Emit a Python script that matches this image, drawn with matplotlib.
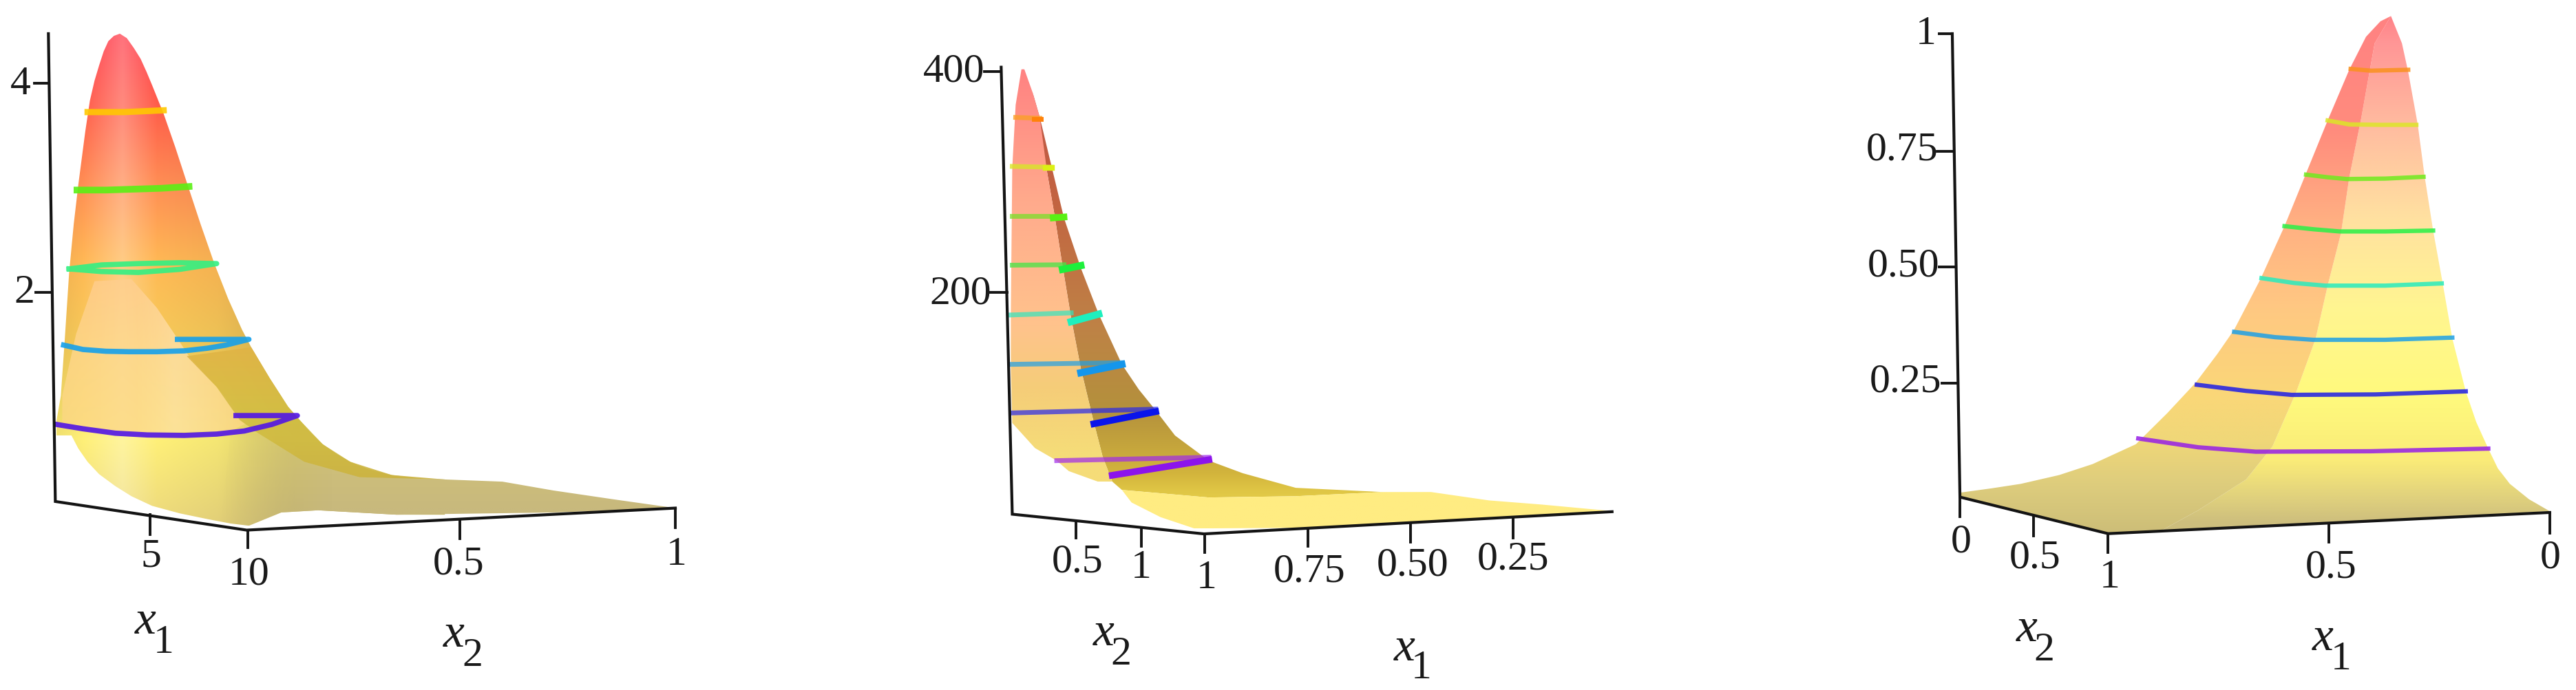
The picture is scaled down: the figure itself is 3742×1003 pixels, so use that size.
import numpy as np
import matplotlib
matplotlib.use("Agg")
import matplotlib.pyplot as plt
from matplotlib.patches import Polygon

plt.rcParams["font.family"] = ["Liberation Serif", "DejaVu Serif"]

W, H = 3742, 1004

# all coordinates below are read off the picture, per panel crop
# ---- panel 1
p1_box = (0, 0, 1050, 1004)
p1_axis = [(105, 78), (120, 1140), (535, 1205), (1465, 1155)]
p1_ticks = [(75, 190, 105, 190), (78, 665, 110, 665), (325, 1170, 325, 1215),
            (537, 1205, 537, 1245), (997, 1180, 997, 1225), (1465, 1155, 1465, 1200)]
p1_labels = [("4", 45, 192), ("2", 52, 665), ("5", 328, 1265), ("10", 540, 1305),
             ("0.5", 995, 1282), ("1", 1467, 1260)]
p1_names = [("x", "1", 315, 1412, 355, 1460), ("x", "2", 985, 1442, 1025, 1490)]
p1_body = [(260, 78), (275, 88), (290, 110), (305, 135), (318, 165), (330, 195), (355, 260), (380, 335), (405, 415),
           (435, 510), (465, 600), (495, 680), (525, 750), (545, 790), (585, 860), (625, 925),
           (650, 955), (675, 985), (700, 1010), (730, 1032), (760, 1050), (800, 1067), (850, 1080), (905, 1087), (965, 1090),
           (965, 1170), (860, 1170), (690, 1160), (610, 1165),
           (540, 1195), (500, 1190), (450, 1180), (390, 1167), (330, 1150), (285, 1128), (250, 1105), (215, 1078), (190, 1050),
           (170, 1020), (155, 990), (122, 990),
           (122, 960), (132, 900), (140, 780), (150, 620), (160, 510), (170, 420), (185, 300),
           (195, 230), (205, 185), (215, 150), (225, 118), (235, 95), (247, 83)]
p1_body_y = [78, 250, 430, 600, 800, 1000, 1200]
p1_body_c = [(255, 60, 75), (255, 95, 75), (255, 145, 85), (255, 185, 85), (245, 205, 90), (255, 240, 120), (235, 215, 125)]
p1_light_x = [130, 180, 265, 340, 470, 640]
p1_light_a = [-0.05, 0.0, 0.28, 0.0, -0.04, -0.18]
p1_sheet = [(205, 640), (285, 635), (340, 700), (385, 770), (410, 810), (470, 880), (540, 960),
            (500, 980), (300, 985), (135, 970), (135, 900), (165, 760)]
p1_back = [(405, 810), (545, 790), (585, 860), (625, 925), (650, 955), (700, 1010), (760, 1050),
           (850, 1080), (965, 1090), (780, 1085), (660, 1050), (560, 985), (520, 955), (470, 880)]
p1_floor = [(500, 985), (560, 985), (660, 1050), (780, 1085), (965, 1090), (1090, 1095), (1200, 1115), (1330, 1135),
            (1465, 1155), (1200, 1165), (860, 1170), (690, 1160), (610, 1165), (540, 1195), (480, 1185)]
p1_fade_x = [480, 560, 720]
p1_fade_a = [0.0, 0.35, 1.0]
p1_lines = [
    ([190, 270, 355], [256, 256, 252], (255, 200, 0), 6.5),
    ([167, 230, 290, 350, 410], [433, 433, 431, 429, 425], (90, 240, 20), 7),
    ([150, 220, 300, 390, 470, 390, 300, 220, 150], [612, 618, 620, 613, 600, 598, 600, 603, 612], (50, 240, 130), 5.5),
    ([138, 180, 230, 280, 340, 400, 450, 490, 540, 460, 385], [785, 795, 799, 800, 800, 798, 792, 785, 772, 772, 772], (20, 160, 235), 5.5),
    ([122, 180, 250, 320, 400, 470, 530, 590, 645, 580, 512], [965, 975, 985, 989, 990, 987, 980, 965, 945, 945, 945], (80, 20, 230), 5.5),
]

# ---- panel 2
p2_box = (1300, 50, 1100, 954)
p2_axis = [(220, 80), (243, 1148), (640, 1195), (1485, 1142)]
p2_ticks = [(185, 90, 220, 90), (195, 618, 232, 618), (375, 1165, 375, 1205), (510, 1180, 510, 1225),
            (642, 1195, 642, 1240), (855, 1185, 855, 1225), (1068, 1172, 1068, 1215), (1280, 1158, 1280, 1205)]
p2_labels = [("400", 122, 90), ("200", 135, 620), ("0.5", 378, 1262), ("1", 510, 1275), ("1", 645, 1300),
             ("0.75", 858, 1285), ("0.50", 1072, 1270), ("0.25", 1280, 1255)]
p2_names = [("x", "2", 432, 1432, 468, 1482), ("x", "1", 1055, 1468, 1090, 1515)]
p2_front = [(268, 85), (285, 140), (300, 200), (315, 330), (330, 430), (345, 540), (365, 680), (385, 800),
            (410, 920), (430, 1010), (450, 1070), (420, 1070), (360, 1045), (335, 1020), (290, 990), (243, 930),
            (240, 800), (240, 670), (243, 320), (250, 170), (262, 85)]
p2_front_y = [85, 400, 700, 850, 1000]
p2_front_c = [(255, 130, 130), (255, 170, 140), (255, 195, 140), (245, 205, 120), (245, 220, 120)]
p2_back = [(285, 140), (300, 200), (325, 320), (350, 440), (385, 560), (422, 670), (470, 790), (505, 850), (540, 900),
           (580, 960), (650, 1020), (720, 1050), (830, 1085), (1010, 1095), (830, 1105), (650, 1108), (470, 1090),
           (450, 1070), (430, 1010), (410, 920), (385, 800), (365, 680), (345, 540), (330, 430), (315, 330)]
p2_back_y = [140, 400, 700, 900, 1050, 1100]
p2_back_c = [(190, 85, 70), (195, 100, 65), (190, 130, 70), (180, 145, 60), (210, 180, 60), (225, 200, 70)]
p2_floor = [(470, 1090), (650, 1108), (830, 1105), (1010, 1095), (1110, 1095), (1230, 1115), (1340, 1125), (1480, 1140),
            (1200, 1160), (900, 1180), (620, 1182), (550, 1155), (490, 1120)]
p2_floor_c = (255, 236, 130)
p2_lines = [
    ([250, 300], [200, 202], (250, 160, 40), 5, 0.8),
    ([243, 325], [317, 319], (215, 230, 40), 5, 0.8),
    ([243, 330], [435, 435], (120, 225, 40), 5, 0.75),
    ([243, 350], [553, 552], (70, 230, 70), 5, 0.75),
    ([240, 365], [672, 667], (50, 230, 190), 5, 0.7),
    ([240, 470], [790, 786], (30, 160, 230), 5, 0.7),
    ([243, 540], [906, 897], (40, 40, 235), 5, 0.7),
    ([335, 650], [1020, 1012], (160, 40, 235), 5, 0.7),
    ([328, 350], [440, 438], (90, 240, 20), 7, 1),
    ([347, 385], [563, 554], (30, 240, 60), 7.5, 1),
    ([365, 422], [688, 670], (30, 240, 190), 7.5, 1),
    ([385, 470], [810, 790], (20, 150, 235), 7.5, 1),
    ([412, 540], [932, 903], (10, 20, 235), 7, 1),
    ([450, 650], [1055, 1018], (140, 20, 235), 7, 1),
    ([288, 302], [203, 203], (255, 130, 10), 5, 1),
    ([312, 325], [320, 320], (220, 240, 20), 6, 1),
]

# ---- panel 3
p3_box = (2650, 0, 1092, 1004)
p3_axis = [(267, 78), (283, 1130), (592, 1213), (1513, 1165)]
p3_ticks = [(240, 78, 267, 78), (235, 345, 270, 345), (240, 608, 272, 608), (245, 872, 275, 872), (283, 1130, 283, 1175),
            (437, 1175, 437, 1218), (592, 1213, 592, 1255), (1053, 1190, 1053, 1232), (1513, 1165, 1513, 1212)]
p3_labels = [("1", 212, 78), ("0.75", 162, 342), ("0.50", 165, 605), ("0.25", 170, 868), ("0", 285, 1232),
             ("0.5", 440, 1268), ("1", 595, 1312), ("0.5", 1057, 1290), ("0", 1515, 1268)]
p3_names = [("x", "2", 422, 1430, 458, 1478), ("x", "1", 1040, 1450, 1078, 1497)]
p3_left = [(1182, 38), (1148, 100), (1120, 270), (1095, 405), (1078, 530), (1050, 650), (1025, 770), (985, 890),
           (935, 1015), (880, 1090), (780, 1160), (700, 1208), (592, 1213), (283, 1130), (283, 1120), (350, 1110), (410, 1100), (490, 1080), (560, 1055),
           (650, 1010), (715, 940), (775, 870), (820, 805), (855, 750), (910, 635), (960, 515), (1005, 395), (1050, 275), (1095, 160),
           (1130, 85), (1160, 50)]
p3_left_y = [40, 300, 500, 700, 900, 1000, 1100, 1210]
p3_left_c = [(255, 130, 130), (255, 140, 125), (255, 175, 130), (255, 200, 130), (250, 215, 120), (240, 215, 120),
             (222, 205, 125), (205, 190, 120)]
p3_right = [(1182, 38), (1205, 100), (1218, 165), (1238, 285), (1252, 400), (1270, 525), (1290, 645), (1310, 770),
            (1338, 890), (1360, 960), (1385, 1020), (1405, 1065), (1430, 1100), (1470, 1135), (1513, 1162), (1053, 1190), (700, 1208), (780, 1160), (880, 1090),
            (935, 1015), (985, 890), (1025, 770), (1050, 650), (1078, 530), (1095, 405), (1120, 270), (1148, 100)]
p3_right_y = [40, 100, 300, 500, 700, 900, 1050, 1130, 1190]
p3_right_c = [(255, 130, 135), (255, 150, 150), (255, 190, 160), (255, 225, 160), (255, 245, 145), (255, 250, 125),
              (250, 235, 120), (225, 210, 125), (205, 190, 125)]
p3_lines = [
    ([1098, 1140, 1218], [158, 162, 160], (250, 145, 30)),
    ([1050, 1095, 1160, 1235], [275, 284, 285, 285], (220, 230, 40)),
    ([1005, 1050, 1090, 1170, 1250], [398, 404, 408, 407, 403], (110, 235, 30)),
    ([960, 1020, 1075, 1170, 1270], [515, 522, 527, 527, 525], (40, 240, 70)),
    ([912, 980, 1045, 1170, 1288], [633, 644, 650, 650, 645], (40, 235, 190)),
    ([855, 940, 1020, 1170, 1310], [755, 767, 773, 773, 768], (30, 160, 230)),
    ([777, 880, 975, 1150, 1338], [875, 889, 898, 897, 890], (30, 30, 230)),
    ([655, 780, 900, 1140, 1385], [997, 1017, 1027, 1026, 1020], (150, 30, 230)),
]


def panel(box):
    x, y, w, h = box
    ax = fig.add_axes([x / W, 1 - (y + h) / H, w / W, h / H])
    ax.set_xlim(0, 1568)
    ax.set_ylim(1568, 0)
    ax.axis("off")
    return ax


def paint(ax, outline, ys, cols, xs=None, lights=None, alpha=1.0, z=2, fade_x=None, fade_a=None):
    """fill a polygon with a colour that runs with height, xs/lights make it lighter or darker sideways"""
    pts = np.array(outline, dtype=float)
    x0, x1, y0, y1 = pts[:, 0].min(), pts[:, 0].max(), pts[:, 1].min(), pts[:, 1].max()
    gx = np.arange(x0, x1 + 2, 2)
    gy = np.arange(y0, y1 + 2, 2)
    cols = np.array(cols, dtype=float) / 255
    rgb = np.zeros((len(gy), len(gx), 4))
    for i in range(3):
        rgb[:, :, i] = np.interp(gy, ys, cols[:, i])[:, None]
    if xs is not None:
        a = np.interp(gx, xs, lights)[None, :]
        for i in range(3):
            c = rgb[:, :, i]
            rgb[:, :, i] = np.where(a > 0, c + (1 - c) * a, c * (1 + a))
    rgb[:, :, 3] = alpha
    if fade_x is not None:
        rgb[:, :, 3] = alpha * np.interp(gx, fade_x, fade_a)[None, :]
    im = ax.imshow(rgb, extent=(x0, x1, y1, y0), aspect="auto", zorder=z, interpolation="bilinear")
    im.set_clip_path(Polygon(pts, transform=ax.transData))


def frame(ax, axis, ticks, labels, names):
    xs = [p[0] for p in axis]
    ys = [p[1] for p in axis]
    ax.plot(xs, ys, color="#141414", lw=3, zorder=6, solid_joinstyle="miter")
    for t in ticks:
        ax.plot([t[0], t[2]], [t[1], t[3]], color="#141414", lw=2.8, zorder=6)
    for s, x, y in labels:
        ax.text(x, y, s, fontsize=43, ha="center", va="center", color="#1a1a1a", zorder=7)
    for a, b, x, y, x2, y2 in names:
        ax.text(x, y, a, fontsize=50, style="italic", ha="center", va="center", color="#1a1a1a", zorder=7)
        ax.text(x2, y2, b, fontsize=43, ha="center", va="center", color="#1a1a1a", zorder=7)


fig = plt.figure(figsize=(W / 100, H / 100), dpi=100)

# first one
ax = panel(p1_box)
paint(ax, p1_body, p1_body_y, p1_body_c, p1_light_x, p1_light_a)
paint(ax, p1_sheet, [640, 800, 985], [(255, 205, 140), (255, 215, 140), (252, 215, 130)],
      [135, 300, 380, 540], [0.0, 0.05, 0.25, 0.0], alpha=0.8, z=3)
paint(ax, p1_back, [790, 950, 1090], [(225, 180, 70), (210, 190, 65), (205, 180, 65)], alpha=0.9, z=3)
paint(ax, p1_floor, [1000, 1155], [(210, 195, 120), (200, 185, 125)], z=3, fade_x=p1_fade_x, fade_a=p1_fade_a)
for lx, ly, c, lw in p1_lines:
    ax.plot(lx, ly, color=np.array(c) / 255, lw=lw, alpha=0.9, zorder=5)
frame(ax, p1_axis, p1_ticks, p1_labels, p1_names)

# second one
ax = panel(p2_box)
paint(ax, p2_back, p2_back_y, p2_back_c)
paint(ax, p2_front, p2_front_y, p2_front_c, z=3)
paint(ax, p2_floor, [1090, 1180], [p2_floor_c, p2_floor_c], z=3)
for lx, ly, c, lw, al in p2_lines:
    ax.plot(lx, ly, color=np.array(c) / 255, lw=lw, alpha=al, zorder=5)
frame(ax, p2_axis, p2_ticks, p2_labels, p2_names)

# third one
ax = panel(p3_box)
paint(ax, p3_right, p3_right_y, p3_right_c)
paint(ax, p3_left, p3_left_y, p3_left_c, z=3)
for lx, ly, c in p3_lines:
    ax.plot(lx, ly, color=np.array(c) / 255, lw=4.5, alpha=0.85, zorder=5)
frame(ax, p3_axis, p3_ticks, p3_labels, p3_names)

fig.savefig("out.png", dpi=100)
